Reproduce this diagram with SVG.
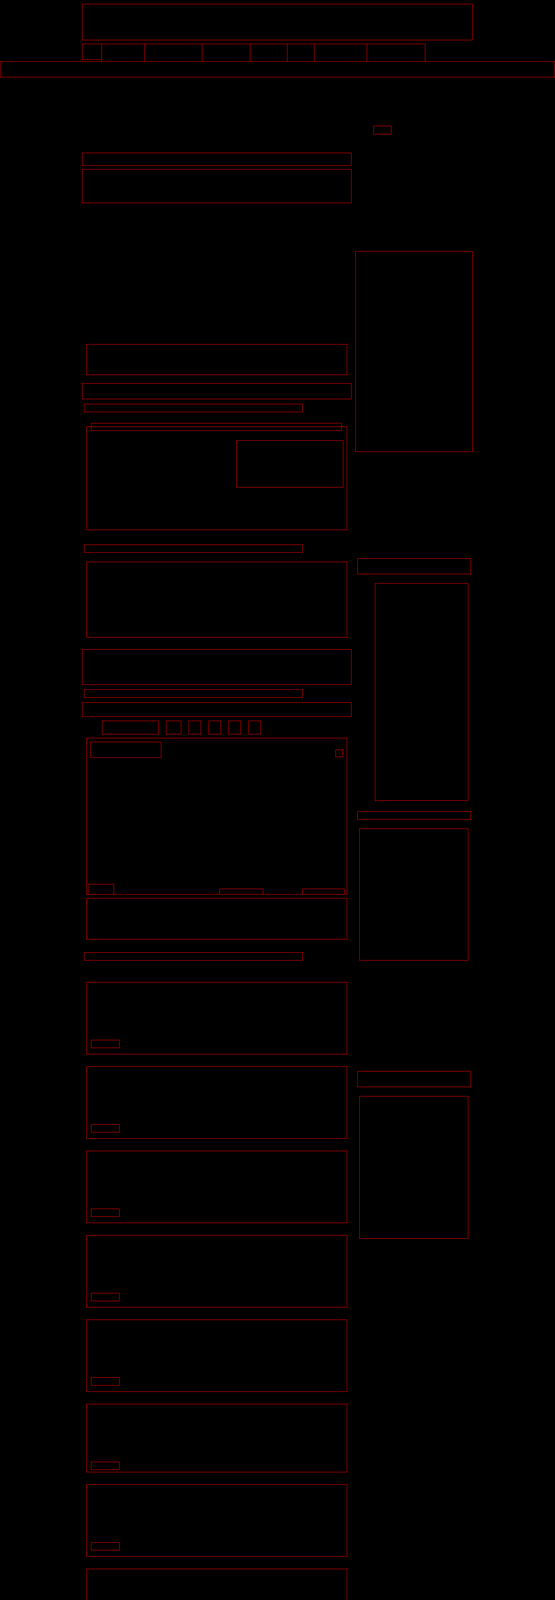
<svg xmlns="http://www.w3.org/2000/svg" width="1421" height="6139" viewBox="0 0 1421 6139">
<style>
rect.b{fill:none;stroke:#ff0000;stroke-width:1}
</style>
<rect x="0" y="0" width="1421" height="6139" fill="#000000"/>
<g id="header"><rect class="b" x="210.5" y="10.5" width="999" height="92"/></g>
<g id="nav">
<rect class="b" x="210.5" y="112.5" width="50" height="40"/>
<rect class="b" x="260.5" y="112.5" width="110" height="45"/>
<rect class="b" x="370.5" y="112.5" width="147" height="45"/>
<rect class="b" x="517.5" y="112.5" width="123" height="45"/>
<rect class="b" x="640.5" y="112.5" width="95" height="45"/>
<rect class="b" x="735.5" y="112.5" width="69" height="45"/>
<rect class="b" x="804.5" y="112.5" width="135" height="45"/>
<rect class="b" x="939.5" y="112.5" width="149" height="45"/>
</g>
<g id="band-top"><rect class="b" x="0.5" y="157.5" width="1420" height="40"/></g>
<g id="small-1"><rect class="b" x="956.5" y="322.5" width="45" height="21"/></g>
<g id="block-1"><rect class="b" x="210.5" y="391.5" width="689" height="32"/></g>
<g id="block-2"><rect class="b" x="210.5" y="433.5" width="689" height="86"/></g>
<g id="side-1"><rect class="b" x="910.5" y="643.5" width="299" height="513"/></g>
<g id="block-3"><rect class="b" x="221.5" y="881.5" width="667" height="78"/></g>
<g id="block-4"><rect class="b" x="210.5" y="981.5" width="689" height="40"/></g>
<g id="title-1"><rect class="b" x="215.5" y="1034.5" width="559" height="20"/></g>
<g id="block-5">
<rect class="b" x="233.5" y="1083.5" width="641" height="19"/>
<rect class="b" x="221.5" y="1092.5" width="667" height="264"/>
<rect class="b" x="605.5" y="1127.5" width="273" height="120"/>
</g>
<g id="title-2"><rect class="b" x="215.5" y="1394.5" width="559" height="20"/></g>
<g id="side-2"><rect class="b" x="915.5" y="1429.5" width="290" height="40"/></g>
<g id="block-6"><rect class="b" x="221.5" y="1438.5" width="667" height="193"/></g>
<g id="side-3"><rect class="b" x="960.5" y="1493.5" width="238" height="556"/></g>
<g id="block-7"><rect class="b" x="210.5" y="1662.5" width="689" height="90"/></g>
<g id="title-3"><rect class="b" x="215.5" y="1765.5" width="559" height="20"/></g>
<g id="block-8"><rect class="b" x="210.5" y="1798.5" width="689" height="36"/></g>
<g id="tabs">
<rect class="b" x="261.5" y="1845.5" width="144" height="34"/>
<rect class="b" x="425.5" y="1845.5" width="38" height="34"/>
<rect class="b" x="483.5" y="1845.5" width="31" height="34"/>
<rect class="b" x="534.5" y="1845.5" width="31" height="34"/>
<rect class="b" x="585.5" y="1845.5" width="31" height="34"/>
<rect class="b" x="636.5" y="1845.5" width="31" height="34"/>
</g>
<g id="block-9">
<rect class="b" x="221.5" y="1889.5" width="667" height="400"/>
<rect class="b" x="231.5" y="1899.5" width="181" height="40"/>
<rect class="b" x="859.5" y="1919.5" width="18" height="18"/>
<rect class="b" x="225.5" y="2263.5" width="66" height="26"/>
<rect class="b" x="562.5" y="2275.5" width="111" height="14"/>
<rect class="b" x="774.5" y="2275.5" width="107" height="14"/>
</g>
<g id="side-4"><rect class="b" x="915.5" y="2077.5" width="290" height="20"/></g>
<g id="side-5"><rect class="b" x="920.5" y="2121.5" width="278" height="337"/></g>
<g id="block-10"><rect class="b" x="221.5" y="2299.5" width="667" height="105"/></g>
<g id="title-4"><rect class="b" x="215.5" y="2438.5" width="559" height="20"/></g>
<g id="card-1"><rect class="b" x="221.5" y="2514.5" width="667" height="184"/><rect class="b" x="233.5" y="2662.5" width="72" height="20"/></g>
<g id="card-2"><rect class="b" x="221.5" y="2730.5" width="667" height="184"/><rect class="b" x="233.5" y="2878.5" width="72" height="20"/></g>
<g id="card-3"><rect class="b" x="221.5" y="2946.5" width="667" height="184"/><rect class="b" x="233.5" y="3094.5" width="72" height="20"/></g>
<g id="card-4"><rect class="b" x="221.5" y="3162.5" width="667" height="184"/><rect class="b" x="233.5" y="3310.5" width="72" height="20"/></g>
<g id="card-5"><rect class="b" x="221.5" y="3378.5" width="667" height="184"/><rect class="b" x="233.5" y="3526.5" width="72" height="20"/></g>
<g id="card-6"><rect class="b" x="221.5" y="3594.5" width="667" height="174"/><rect class="b" x="233.5" y="3742.5" width="72" height="20"/></g>
<g id="card-7"><rect class="b" x="221.5" y="3800.5" width="667" height="184"/><rect class="b" x="233.5" y="3948.5" width="72" height="20"/></g>
<g id="card-8"><rect class="b" x="221.5" y="4016.5" width="667" height="184"/><rect class="b" x="233.5" y="4164.5" width="72" height="20"/></g>
<g id="card-9"><rect class="b" x="221.5" y="4232.5" width="667" height="184"/><rect class="b" x="233.5" y="4380.5" width="72" height="20"/></g>
<g id="card-10"><rect class="b" x="221.5" y="4448.5" width="667" height="184"/><rect class="b" x="233.5" y="4596.5" width="72" height="20"/></g>
<g id="card-11"><rect class="b" x="221.5" y="4664.5" width="667" height="184"/><rect class="b" x="233.5" y="4812.5" width="72" height="20"/></g>
<g id="side-6"><rect class="b" x="915.5" y="2742.5" width="290" height="40"/></g>
<g id="side-7"><rect class="b" x="920.5" y="2806.5" width="278" height="364"/></g>
<g id="title-5"><rect class="b" x="215.5" y="4904.5" width="559" height="20"/></g>
<g id="column">
<rect class="b" x="261.5" y="4948.5" width="320" height="336"/>
<rect class="b" x="261.5" y="5284.5" width="320" height="336"/>
</g>
<g id="block-11"><rect class="b" x="251.5" y="5676.5" width="958" height="130"/></g>
<g id="block-12"><rect class="b" x="210.5" y="5849.5" width="999" height="34"/></g>
<g id="footer-links">
<rect class="b" x="381.5" y="5904.5" width="230" height="16"/>
<rect class="b" x="611.5" y="5904.5" width="428" height="16"/>
<rect class="b" x="528.5" y="5930.5" width="363" height="16"/>
<rect class="b" x="471.5" y="5956.5" width="477" height="16"/>
<rect class="b" x="474.5" y="5982.5" width="472" height="16"/>
<rect class="b" x="437.5" y="6008.5" width="443" height="16"/>
<rect class="b" x="504.5" y="6034.5" width="311" height="16"/>
<rect class="b" x="537.5" y="6060.5" width="245" height="16"/>
</g>
<g id="side-8"><rect class="b" x="1110.5" y="6003.5" width="100" height="65"/></g>
<g id="band-bottom"><rect class="b" x="0.5" y="6115.5" width="1420" height="40"/></g>
<g id="connectors"></g>
</svg>
